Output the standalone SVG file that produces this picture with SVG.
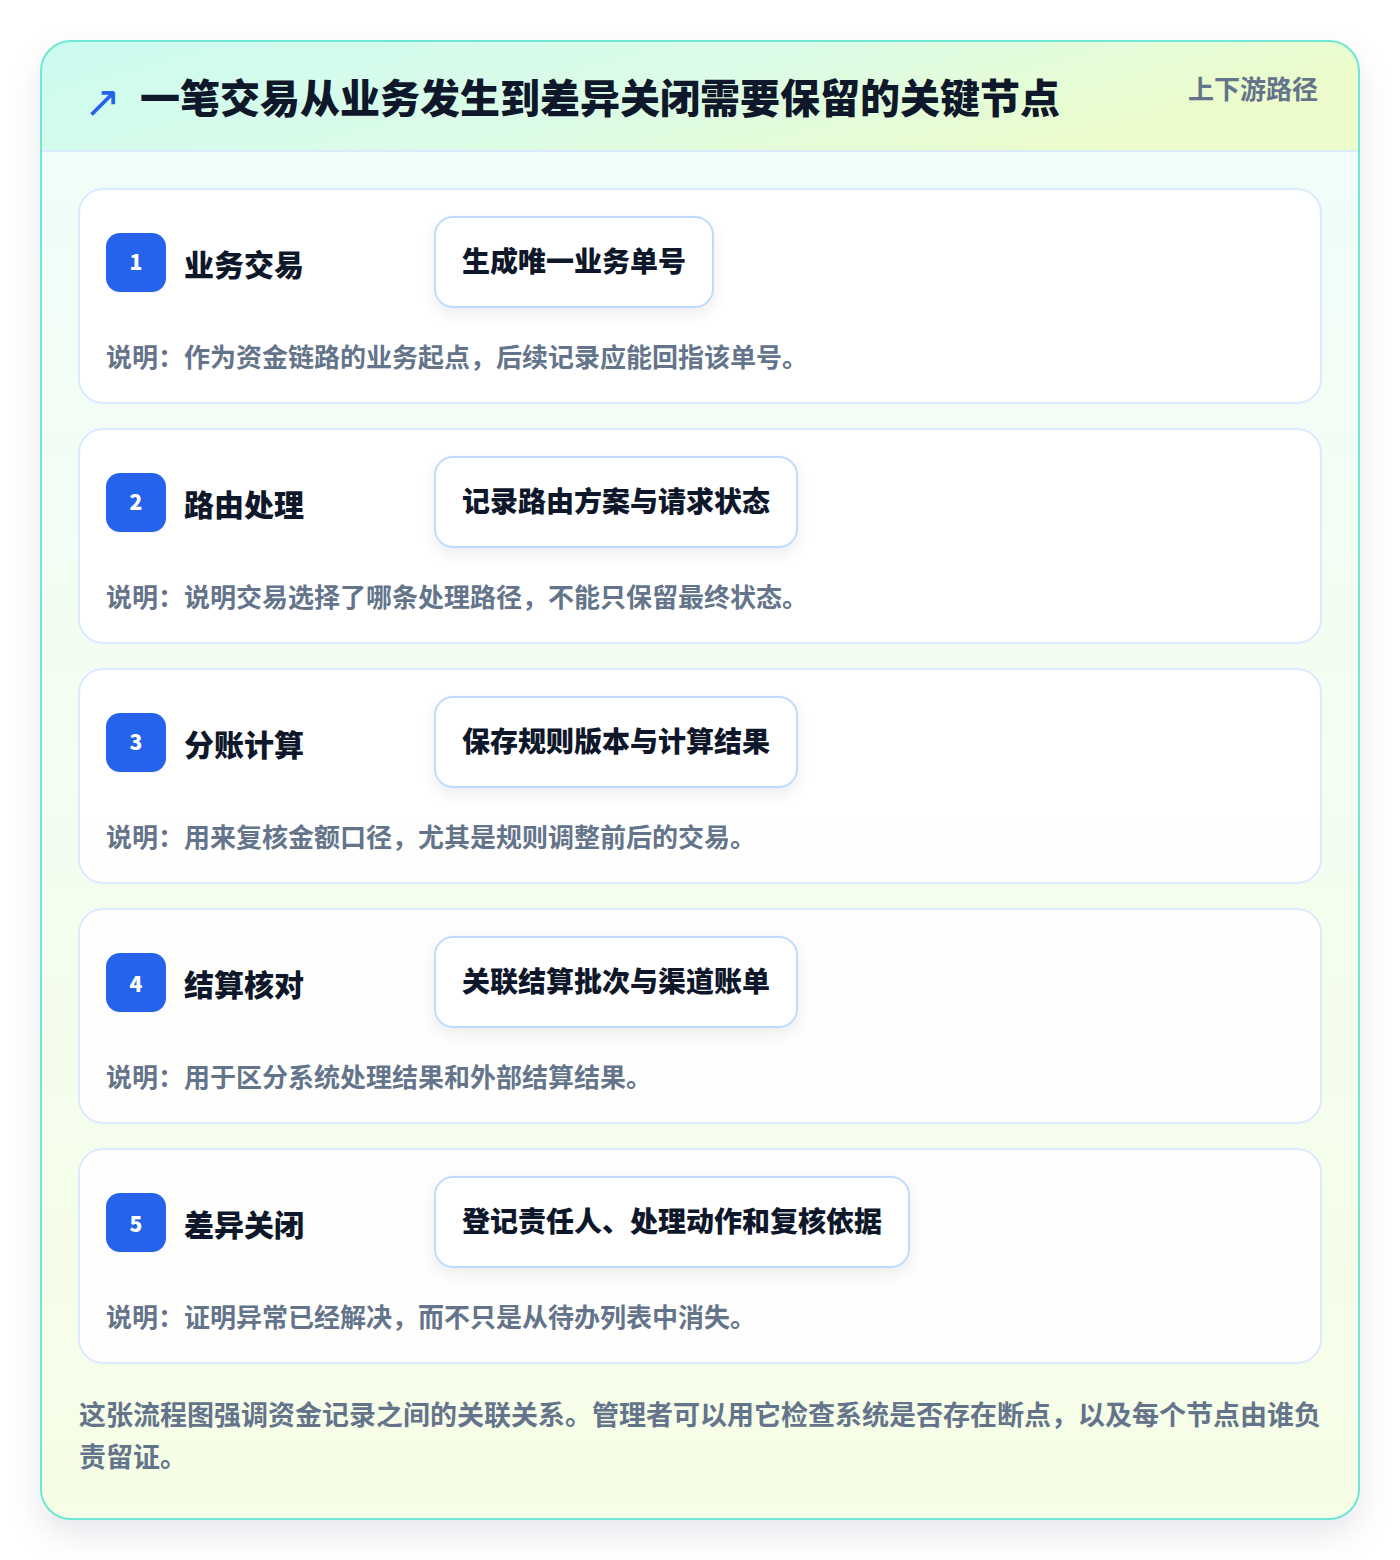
<svg xmlns="http://www.w3.org/2000/svg" width="1400" height="1560" viewBox="0 0 1400 1560">
<defs>
<linearGradient id="hdr" x1="0" y1="0" x2="1" y2="0.3">
<stop offset="0" stop-color="#ccfbf1"/>
<stop offset="0.55" stop-color="#dcfce7"/>
<stop offset="1" stop-color="#ecfccb"/>
</linearGradient>
<linearGradient id="body" x1="0" y1="0" x2="0" y2="1">
<stop offset="0" stop-color="#f0fdfa"/>
<stop offset="1" stop-color="#f7fee7"/>
</linearGradient>
<filter id="cardShadow" x="-10%" y="-10%" width="120%" height="120%">
<feDropShadow dx="0" dy="14" stdDeviation="16" flood-color="#0f172a" flood-opacity="0.10"/>
</filter>
<filter id="pillShadow" x="-20%" y="-30%" width="140%" height="170%">
<feDropShadow dx="0" dy="6" stdDeviation="7" flood-color="#0f172a" flood-opacity="0.07"/>
</filter>
<clipPath id="cardClip"><rect x="41" y="41" width="1318" height="1478" rx="30"/></clipPath>
<style>
text{font-family:"Noto Sans CJK SC","Noto Sans",sans-serif}
.title{font-size:40px;font-weight:900;fill:#0f172a}
.tag{font-size:26px;font-weight:700;fill:#64748b}
.row{fill:#ffffff;fill-opacity:0.88;stroke:#dbeafe;stroke-width:2}
.badge{fill:#2563eb}
.num{font-size:21px;font-weight:800;fill:#ffffff;text-anchor:middle}
.name{font-size:30px;font-weight:800;fill:#0f172a}
.pill{fill:#ffffff;stroke:#bfdbfe;stroke-width:2}
.ptxt{font-size:28px;font-weight:800;fill:#0f172a}
.desc{font-size:26px;font-weight:700;fill:#64748b}
.foot{font-size:27px;font-weight:700;fill:#64748b}
.icon{font-family:"DejaVu Sans",sans-serif;font-size:44px;fill:#2563eb}
</style>
</defs>
<rect width="1400" height="1560" fill="#ffffff"/>
<g id="card">
<rect x="41" y="41" width="1318" height="1478" rx="30" fill="url(#body)" filter="url(#cardShadow)"/>
<g clip-path="url(#cardClip)">
<rect x="41" y="41" width="1318" height="110" fill="url(#hdr)"/>
<line x1="41" y1="151" x2="1359" y2="151" stroke="#dbeafe" stroke-width="2"/>
</g>
<rect x="41" y="41" width="1318" height="1478" rx="30" fill="none" stroke="#6ee7d4" stroke-width="2"/>
</g>
<g id="header">
<text class="icon" x="84" y="117">↗</text>
<text class="title" x="140" y="113">一笔交易从业务发生到差异关闭需要保留的关键节点</text>
<text class="tag" x="1318" y="99" text-anchor="end">上下游路径</text>
</g>
<g id="step1">
<rect class="row" x="79" y="189" width="1242" height="214" rx="24"/>
<rect class="badge" x="106" y="233" width="60" height="59" rx="14"/>
<text class="num" x="136" y="270">1</text>
<text class="name" x="184" y="276">业务交易</text>
<rect class="pill" x="435" y="217" width="278" height="90" rx="18" filter="url(#pillShadow)"/>
<text class="ptxt" x="462" y="272">生成唯一业务单号</text>
<text class="desc" x="106" y="367">说明：作为资金链路的业务起点，后续记录应能回指该单号。</text>
</g>
<g id="step2">
<rect class="row" x="79" y="429" width="1242" height="214" rx="24"/>
<rect class="badge" x="106" y="473" width="60" height="59" rx="14"/>
<text class="num" x="136" y="510">2</text>
<text class="name" x="184" y="516">路由处理</text>
<rect class="pill" x="435" y="457" width="362" height="90" rx="18" filter="url(#pillShadow)"/>
<text class="ptxt" x="462" y="512">记录路由方案与请求状态</text>
<text class="desc" x="106" y="607">说明：说明交易选择了哪条处理路径，不能只保留最终状态。</text>
</g>
<g id="step3">
<rect class="row" x="79" y="669" width="1242" height="214" rx="24"/>
<rect class="badge" x="106" y="713" width="60" height="59" rx="14"/>
<text class="num" x="136" y="750">3</text>
<text class="name" x="184" y="756">分账计算</text>
<rect class="pill" x="435" y="697" width="362" height="90" rx="18" filter="url(#pillShadow)"/>
<text class="ptxt" x="462" y="752">保存规则版本与计算结果</text>
<text class="desc" x="106" y="847">说明：用来复核金额口径，尤其是规则调整前后的交易。</text>
</g>
<g id="step4">
<rect class="row" x="79" y="909" width="1242" height="214" rx="24"/>
<rect class="badge" x="106" y="953" width="60" height="59" rx="14"/>
<text class="num" x="136" y="992">4</text>
<text class="name" x="184" y="996">结算核对</text>
<rect class="pill" x="435" y="937" width="362" height="90" rx="18" filter="url(#pillShadow)"/>
<text class="ptxt" x="462" y="992">关联结算批次与渠道账单</text>
<text class="desc" x="106" y="1087">说明：用于区分系统处理结果和外部结算结果。</text>
</g>
<g id="step5">
<rect class="row" x="79" y="1149" width="1242" height="214" rx="24"/>
<rect class="badge" x="106" y="1193" width="60" height="59" rx="14"/>
<text class="num" x="136" y="1232">5</text>
<text class="name" x="184" y="1236">差异关闭</text>
<rect class="pill" x="435" y="1177" width="474" height="90" rx="18" filter="url(#pillShadow)"/>
<text class="ptxt" x="462" y="1232">登记责任人、处理动作和复核依据</text>
<text class="desc" x="106" y="1327">说明：证明异常已经解决，而不只是从待办列表中消失。</text>
</g>
<g id="connectors"></g>
<g id="footer">
<text class="foot" x="79" y="1425">这张流程图强调资金记录之间的关联关系。管理者可以用它检查系统是否存在断点，以及每个节点由谁负</text>
<text class="foot" x="79" y="1467">责留证。</text>
</g>
</svg>
